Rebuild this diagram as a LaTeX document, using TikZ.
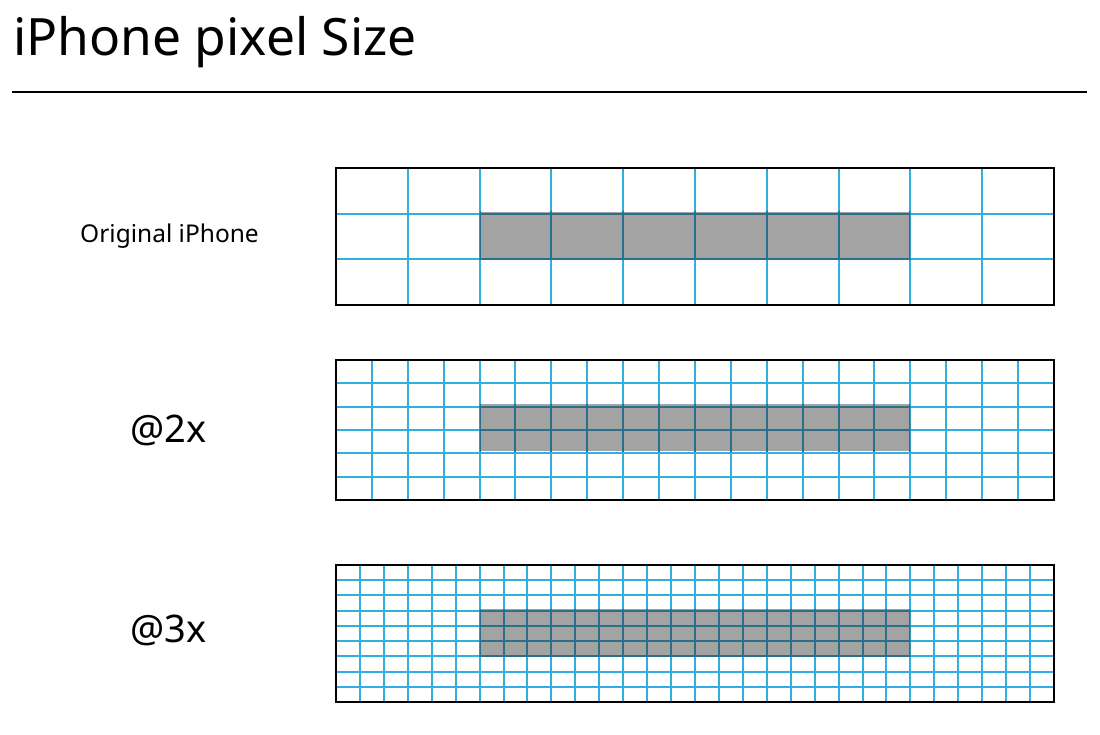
\documentclass[tikz,border=0pt]{standalone}
\usepackage{fontspec}
\setmainfont{Noto Sans}
\definecolor{gridblue}{HTML}{33AEE0}
\definecolor{griddark}{HTML}{2A6F8C}
\definecolor{pixgray}{HTML}{A3A3A3}
\tikzset{
  gridline/.style={draw=gridblue,line width=2pt},
  griddarkline/.style={draw=griddark,line width=2pt},
  frame/.style={draw=black,line width=2.2pt},
  pixfill/.style={fill=pixgray},
  lbl/.style={anchor=base west,inner sep=0pt},
}
\newcommand\pixgrid[6]{%
  % #1 top, #2 bottom, #3 cols, #4 rows, #5 gray top, #6 gray bottom
  \pgfmathtruncatemacro\pgnc{#3-1}%
  \pgfmathtruncatemacro\pgnr{#4-1}%
  \pgfmathsetmacro\pgcw{718/#3}%
  \pgfmathsetmacro\pgrh{(#2-#1)/#4}%
  \fill[pixfill] (479.6,#5) rectangle (910.4,#6);
  \foreach \i in {1,...,\pgnc}{\pgfmathsetmacro\xx{round(336+\i*\pgcw)}\draw[gridline] (\xx,#1) -- (\xx,#2);}
  \foreach \j in {1,...,\pgnr}{\pgfmathsetmacro\yy{round(#1+\j*\pgrh)}\draw[gridline] (336,\yy) -- (1054,\yy);}
  \begin{scope}
    \clip (479.6,#5) rectangle (910.4,#6);
    \foreach \i in {1,...,\pgnc}{\pgfmathsetmacro\xx{round(336+\i*\pgcw)}\draw[griddarkline] (\xx,#1) -- (\xx,#2);}
    \foreach \j in {1,...,\pgnr}{\pgfmathsetmacro\yy{round(#1+\j*\pgrh)}\draw[griddarkline] (336,\yy) -- (1054,\yy);}
  \end{scope}
  \draw[frame] (336,#1) rectangle (1054,#2);
}
\begin{document}
\begin{tikzpicture}[x=1pt,y=-1pt]
\useasboundingbox[fill=white] (0,0) rectangle (1100,734);
\node[lbl,font=\fontsize{51.5}{60}\selectfont] (title) at (13,55) {iPhone pixel Size};
\coordinate (ruleL) at (12,92);
\coordinate (ruleR) at (1087,92);
\draw[line width=2pt] (ruleL) -- (ruleR);
\node[lbl,font=\fontsize{24.5}{29}\selectfont] (orig) at (80,242) {Original iPhone};
\node[lbl,font=\fontsize{38}{45}\selectfont] (two) at (130,442) {@2x};
\node[lbl,font=\fontsize{38}{45}\selectfont] (three) at (130,642) {@3x};
\pixgrid{168}{305}{10}{3}{211.7}{259.3}
\pixgrid{360}{500}{20}{6}{404}{451}
\pixgrid{565}{702}{30}{9}{609}{656}
\end{tikzpicture}
\end{document}
